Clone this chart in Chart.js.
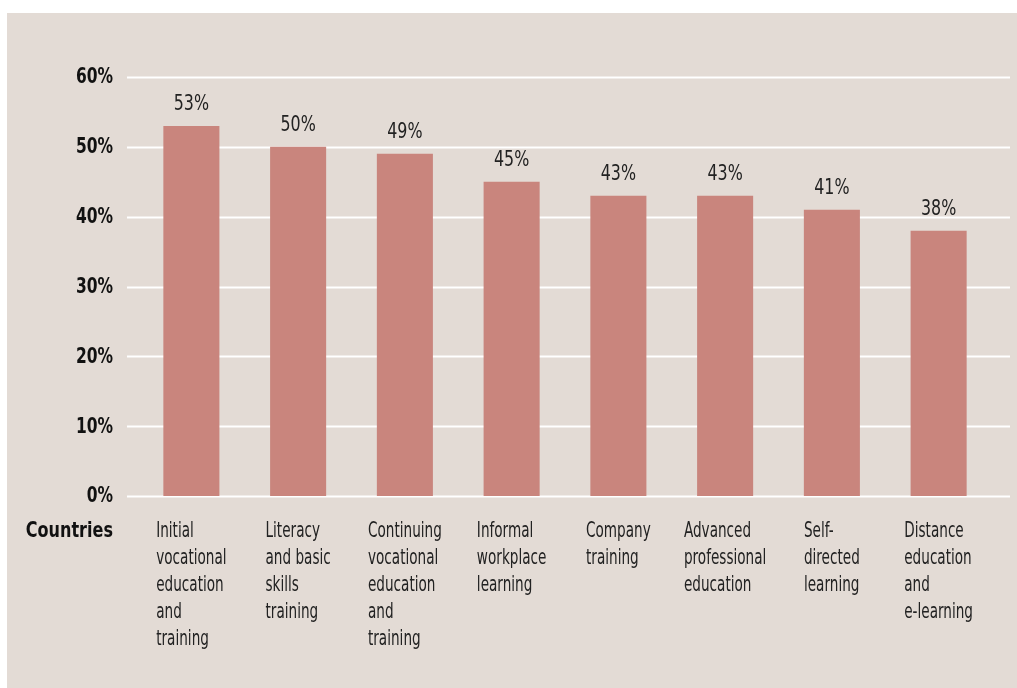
<!DOCTYPE html>
<html>
<head>
<meta charset="utf-8">
<script src="https://cdn.jsdelivr.net/npm/chart.js@4"></script>
<style>
  html, body { margin: 0; padding: 0; background: #fff; }
  #wrap { width: 1017px; height: 688px; }
</style>
</head>
<body>
<div id="wrap"><canvas id="barChart" width="1017" height="688"></canvas></div>
<script>
var labels = [
    ["Initial", "vocational", "education", "and", "training"],
    ["Literacy", "and basic", "skills", "training"],
    ["Continuing", "vocational", "education", "and", "training"],
    ["Informal", "workplace", "learning"],
    ["Company", "training"],
    ["Advanced", "professional", "education"],
    ["Self-", "directed", "learning"],
    ["Distance", "education", "and", "e-learning"],
];
var data = [53, 50, 49, 45, 43, 43, 41, 38];
var yTicks = [0, 10, 20, 30, 40, 50, 60];
var axisTitle = "Countries";

var FONT = "'Liberation Sans Narrow', 'DejaVu Sans Condensed', sans-serif";
var PANEL = '#e3dbd5';
var BAR = '#c9857d';

// draw text squeezed horizontally, the original uses a condensed face
function squeezed(ctx, text, x, y, sx, align) {
    var w = ctx.measureText(text).width * sx;
    var left = align === 'right' ? x - w : (align === 'center' ? x - w / 2 : x);
    ctx.save();
    ctx.textAlign = 'left';
    ctx.translate(left, y);
    ctx.scale(sx, 1);
    ctx.fillText(text, 0, 0);
    ctx.restore();
}

var decor = {
    id: 'decor',
    beforeDraw: function (chart) {
        var ctx = chart.ctx;
        ctx.save();
        ctx.fillStyle = PANEL;
        ctx.fillRect(7, 13, chart.width - 7, chart.height - 13);
        ctx.restore();
    },
    beforeDatasetsDraw: function (chart) {
        var ctx = chart.ctx, y = chart.scales.y;
        ctx.save();
        ctx.strokeStyle = '#ffffff';
        ctx.lineWidth = 2;
        yTicks.forEach(function (v) {
            var py = Math.round(y.getPixelForValue(v)) + 0.5;
            ctx.beginPath();
            ctx.moveTo(127, py);
            ctx.lineTo(1010, py);
            ctx.stroke();
        });
        // y tick labels
        ctx.fillStyle = '#111';
        ctx.font = 'bold 21px ' + FONT;
        ctx.textBaseline = 'middle';
        y.ticks.forEach(function (t) {
            squeezed(ctx, t.value + '%', 113, y.getPixelForValue(t.value) + 1, 0.82, 'right');
        });
        ctx.restore();
    },
    afterDatasetsDraw: function (chart) {
        var ctx = chart.ctx, x = chart.scales.x, y = chart.scales.y;
        var sx = 0.72;
        ctx.save();
        ctx.textBaseline = 'alphabetic';
        // value labels above bars
        ctx.fillStyle = '#222';
        ctx.font = '21px ' + FONT;
        data.forEach(function (v, i) {
            squeezed(ctx, v + '%', x.getPixelForValue(i), y.getPixelForValue(v) - 16, 0.84, 'center');
        });
        // category labels, left-aligned blocks
        labels.forEach(function (lines, i) {
            var w = 0;
            lines.forEach(function (l) { w = Math.max(w, ctx.measureText(l).width * sx); });
            var left = x.getPixelForValue(i) - w / 2;
            lines.forEach(function (l, k) {
                squeezed(ctx, l, left, 537 + k * 27, sx, 'left');
            });
        });
        ctx.font = 'bold 21px ' + FONT;
        ctx.fillStyle = '#111';
        squeezed(ctx, axisTitle, 113, 537, 0.85, 'right');
        ctx.restore();
    }
};

var bar = document.getElementById('barChart').getContext('2d');
var myChart = new Chart(bar, {
    type: 'bar',
    data: {
        labels: labels,
        datasets: [{
            data: data,
            backgroundColor: BAR,
            borderWidth: 0,
            categoryPercentage: 1,
            barPercentage: 0.525
        }]
    },
    options: {
        responsive: false,
        animation: false,
        devicePixelRatio: 1,
        layout: { padding: { top: 77, right: 25, bottom: 192, left: 0 } },
        plugins: { legend: { display: false }, tooltip: { enabled: false } },
        scales: {
            x: { display: false },
            y: {
                min: 0,
                max: 60,
                afterFit: function (s) { s.width = 138; },
                afterBuildTicks: function (s) {
                    s.ticks = yTicks.map(function (v) { return { value: v }; });
                },
                border: { display: false },
                grid: { display: false },
                ticks: {
                    color: 'rgba(0,0,0,0)',
                    font: { family: FONT, size: 21, weight: 'bold' },
                    callback: function (v) { return v + '%'; }
                }
            }
        }
    },
    plugins: [decor]
});
</script>
</body>
</html>
